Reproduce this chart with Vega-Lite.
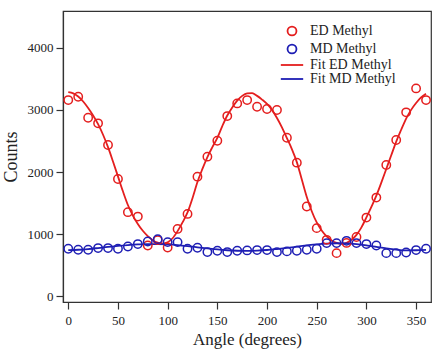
{
  "$schema": "https://vega.github.io/schema/vega-lite/v6.json",
  "width": 368,
  "height": 291,
  "autosize": {"type": "none"},
  "padding": {"left": 63, "top": 11, "right": 1, "bottom": 51},
  "background": "white",
  "config": {
    "font": "Times New Roman, Liberation Serif, serif",
    "view": {"stroke": "#333333", "strokeWidth": 1.2},
    "axis": {
      "grid": false,
      "domainColor": "#333333",
      "domainWidth": 1.2,
      "tickColor": "#333333",
      "tickWidth": 1.2,
      "tickSize": 7,
      "labelFont": "Times New Roman, Liberation Serif, serif",
      "labelColor": "#222222",
      "titleFont": "Times New Roman, Liberation Serif, serif",
      "titleFontWeight": "normal",
      "titleColor": "#222222"
    },
    "legend": {
      "labelFont": "Times New Roman, Liberation Serif, serif",
      "labelColor": "#222222"
    }
  },
  "datasets": {
    "pts": [
      {"angle": 0, "counts": 3157, "series": "ED Methyl"},
      {"angle": 10, "counts": 3210, "series": "ED Methyl"},
      {"angle": 20, "counts": 2873, "series": "ED Methyl"},
      {"angle": 30, "counts": 2783, "series": "ED Methyl"},
      {"angle": 40, "counts": 2435, "series": "ED Methyl"},
      {"angle": 50, "counts": 1889, "series": "ED Methyl"},
      {"angle": 60, "counts": 1355, "series": "ED Methyl"},
      {"angle": 70, "counts": 1284, "series": "ED Methyl"},
      {"angle": 80, "counts": 819, "series": "ED Methyl"},
      {"angle": 90, "counts": 905, "series": "ED Methyl"},
      {"angle": 100, "counts": 787, "series": "ED Methyl"},
      {"angle": 110, "counts": 1085, "series": "ED Methyl"},
      {"angle": 120, "counts": 1327, "series": "ED Methyl"},
      {"angle": 130, "counts": 1926, "series": "ED Methyl"},
      {"angle": 140, "counts": 2247, "series": "ED Methyl"},
      {"angle": 150, "counts": 2504, "series": "ED Methyl"},
      {"angle": 160, "counts": 2900, "series": "ED Methyl"},
      {"angle": 170, "counts": 3104, "series": "ED Methyl"},
      {"angle": 180, "counts": 3157, "series": "ED Methyl"},
      {"angle": 190, "counts": 3050, "series": "ED Methyl"},
      {"angle": 200, "counts": 3013, "series": "ED Methyl"},
      {"angle": 210, "counts": 2997, "series": "ED Methyl"},
      {"angle": 220, "counts": 2552, "series": "ED Methyl"},
      {"angle": 230, "counts": 2151, "series": "ED Methyl"},
      {"angle": 240, "counts": 1445, "series": "ED Methyl"},
      {"angle": 250, "counts": 1098, "series": "ED Methyl"},
      {"angle": 260, "counts": 910, "series": "ED Methyl"},
      {"angle": 270, "counts": 696, "series": "ED Methyl"},
      {"angle": 280, "counts": 860, "series": "ED Methyl"},
      {"angle": 290, "counts": 955, "series": "ED Methyl"},
      {"angle": 300, "counts": 1268, "series": "ED Methyl"},
      {"angle": 310, "counts": 1589, "series": "ED Methyl"},
      {"angle": 320, "counts": 2114, "series": "ED Methyl"},
      {"angle": 330, "counts": 2515, "series": "ED Methyl"},
      {"angle": 340, "counts": 2960, "series": "ED Methyl"},
      {"angle": 350, "counts": 3345, "series": "ED Methyl"},
      {"angle": 360, "counts": 3157, "series": "ED Methyl"},
      {"angle": 0, "counts": 766, "series": "MD Methyl"},
      {"angle": 10, "counts": 750, "series": "MD Methyl"},
      {"angle": 20, "counts": 750, "series": "MD Methyl"},
      {"angle": 30, "counts": 777, "series": "MD Methyl"},
      {"angle": 40, "counts": 777, "series": "MD Methyl"},
      {"angle": 50, "counts": 766, "series": "MD Methyl"},
      {"angle": 60, "counts": 803, "series": "MD Methyl"},
      {"angle": 70, "counts": 841, "series": "MD Methyl"},
      {"angle": 80, "counts": 883, "series": "MD Methyl"},
      {"angle": 90, "counts": 921, "series": "MD Methyl"},
      {"angle": 100, "counts": 873, "series": "MD Methyl"},
      {"angle": 110, "counts": 873, "series": "MD Methyl"},
      {"angle": 120, "counts": 766, "series": "MD Methyl"},
      {"angle": 130, "counts": 782, "series": "MD Methyl"},
      {"angle": 140, "counts": 713, "series": "MD Methyl"},
      {"angle": 150, "counts": 734, "series": "MD Methyl"},
      {"angle": 160, "counts": 713, "series": "MD Methyl"},
      {"angle": 170, "counts": 734, "series": "MD Methyl"},
      {"angle": 180, "counts": 740, "series": "MD Methyl"},
      {"angle": 190, "counts": 745, "series": "MD Methyl"},
      {"angle": 200, "counts": 745, "series": "MD Methyl"},
      {"angle": 210, "counts": 713, "series": "MD Methyl"},
      {"angle": 220, "counts": 724, "series": "MD Methyl"},
      {"angle": 230, "counts": 734, "series": "MD Methyl"},
      {"angle": 240, "counts": 750, "series": "MD Methyl"},
      {"angle": 250, "counts": 766, "series": "MD Methyl"},
      {"angle": 260, "counts": 857, "series": "MD Methyl"},
      {"angle": 270, "counts": 857, "series": "MD Methyl"},
      {"angle": 280, "counts": 894, "series": "MD Methyl"},
      {"angle": 290, "counts": 857, "series": "MD Methyl"},
      {"angle": 300, "counts": 841, "series": "MD Methyl"},
      {"angle": 310, "counts": 819, "series": "MD Methyl"},
      {"angle": 320, "counts": 696, "series": "MD Methyl"},
      {"angle": 330, "counts": 696, "series": "MD Methyl"},
      {"angle": 340, "counts": 707, "series": "MD Methyl"},
      {"angle": 350, "counts": 745, "series": "MD Methyl"},
      {"angle": 360, "counts": 766, "series": "MD Methyl"}
    ],
    "fits": [
      {"angle": 0, "counts": 3285, "series": "Fit ED Methyl"},
      {"angle": 5, "counts": 3265, "series": "Fit ED Methyl"},
      {"angle": 10, "counts": 3215, "series": "Fit ED Methyl"},
      {"angle": 15, "counts": 3135, "series": "Fit ED Methyl"},
      {"angle": 20, "counts": 3030, "series": "Fit ED Methyl"},
      {"angle": 25, "counts": 2910, "series": "Fit ED Methyl"},
      {"angle": 30, "counts": 2770, "series": "Fit ED Methyl"},
      {"angle": 35, "counts": 2600, "series": "Fit ED Methyl"},
      {"angle": 40, "counts": 2400, "series": "Fit ED Methyl"},
      {"angle": 45, "counts": 2170, "series": "Fit ED Methyl"},
      {"angle": 50, "counts": 1930, "series": "Fit ED Methyl"},
      {"angle": 55, "counts": 1690, "series": "Fit ED Methyl"},
      {"angle": 60, "counts": 1470, "series": "Fit ED Methyl"},
      {"angle": 65, "counts": 1300, "series": "Fit ED Methyl"},
      {"angle": 70, "counts": 1165, "series": "Fit ED Methyl"},
      {"angle": 75, "counts": 1055, "series": "Fit ED Methyl"},
      {"angle": 80, "counts": 970, "series": "Fit ED Methyl"},
      {"angle": 85, "counts": 905, "series": "Fit ED Methyl"},
      {"angle": 90, "counts": 865, "series": "Fit ED Methyl"},
      {"angle": 95, "counts": 850, "series": "Fit ED Methyl"},
      {"angle": 100, "counts": 870, "series": "Fit ED Methyl"},
      {"angle": 105, "counts": 935, "series": "Fit ED Methyl"},
      {"angle": 110, "counts": 1050, "series": "Fit ED Methyl"},
      {"angle": 115, "counts": 1190, "series": "Fit ED Methyl"},
      {"angle": 120, "counts": 1350, "series": "Fit ED Methyl"},
      {"angle": 125, "counts": 1580, "series": "Fit ED Methyl"},
      {"angle": 130, "counts": 1840, "series": "Fit ED Methyl"},
      {"angle": 135, "counts": 2050, "series": "Fit ED Methyl"},
      {"angle": 140, "counts": 2240, "series": "Fit ED Methyl"},
      {"angle": 145, "counts": 2400, "series": "Fit ED Methyl"},
      {"angle": 150, "counts": 2550, "series": "Fit ED Methyl"},
      {"angle": 155, "counts": 2740, "series": "Fit ED Methyl"},
      {"angle": 160, "counts": 2910, "series": "Fit ED Methyl"},
      {"angle": 165, "counts": 3040, "series": "Fit ED Methyl"},
      {"angle": 170, "counts": 3150, "series": "Fit ED Methyl"},
      {"angle": 175, "counts": 3225, "series": "Fit ED Methyl"},
      {"angle": 180, "counts": 3265, "series": "Fit ED Methyl"},
      {"angle": 185, "counts": 3270, "series": "Fit ED Methyl"},
      {"angle": 190, "counts": 3225, "series": "Fit ED Methyl"},
      {"angle": 195, "counts": 3165, "series": "Fit ED Methyl"},
      {"angle": 200, "counts": 3095, "series": "Fit ED Methyl"},
      {"angle": 205, "counts": 3000, "series": "Fit ED Methyl"},
      {"angle": 210, "counts": 2870, "series": "Fit ED Methyl"},
      {"angle": 215, "counts": 2720, "series": "Fit ED Methyl"},
      {"angle": 220, "counts": 2545, "series": "Fit ED Methyl"},
      {"angle": 225, "counts": 2370, "series": "Fit ED Methyl"},
      {"angle": 230, "counts": 2160, "series": "Fit ED Methyl"},
      {"angle": 235, "counts": 1880, "series": "Fit ED Methyl"},
      {"angle": 240, "counts": 1600, "series": "Fit ED Methyl"},
      {"angle": 245, "counts": 1370, "series": "Fit ED Methyl"},
      {"angle": 250, "counts": 1190, "series": "Fit ED Methyl"},
      {"angle": 255, "counts": 1060, "series": "Fit ED Methyl"},
      {"angle": 260, "counts": 965, "series": "Fit ED Methyl"},
      {"angle": 265, "counts": 900, "series": "Fit ED Methyl"},
      {"angle": 270, "counts": 860, "series": "Fit ED Methyl"},
      {"angle": 275, "counts": 845, "series": "Fit ED Methyl"},
      {"angle": 280, "counts": 860, "series": "Fit ED Methyl"},
      {"angle": 285, "counts": 910, "series": "Fit ED Methyl"},
      {"angle": 290, "counts": 990, "series": "Fit ED Methyl"},
      {"angle": 295, "counts": 1110, "series": "Fit ED Methyl"},
      {"angle": 300, "counts": 1270, "series": "Fit ED Methyl"},
      {"angle": 305, "counts": 1440, "series": "Fit ED Methyl"},
      {"angle": 310, "counts": 1620, "series": "Fit ED Methyl"},
      {"angle": 315, "counts": 1830, "series": "Fit ED Methyl"},
      {"angle": 320, "counts": 2050, "series": "Fit ED Methyl"},
      {"angle": 325, "counts": 2270, "series": "Fit ED Methyl"},
      {"angle": 330, "counts": 2490, "series": "Fit ED Methyl"},
      {"angle": 335, "counts": 2680, "series": "Fit ED Methyl"},
      {"angle": 340, "counts": 2860, "series": "Fit ED Methyl"},
      {"angle": 345, "counts": 3000, "series": "Fit ED Methyl"},
      {"angle": 350, "counts": 3110, "series": "Fit ED Methyl"},
      {"angle": 355, "counts": 3200, "series": "Fit ED Methyl"},
      {"angle": 360, "counts": 3260, "series": "Fit ED Methyl"},
      {"angle": 0, "counts": 745, "series": "Fit MD Methyl"},
      {"angle": 10, "counts": 750, "series": "Fit MD Methyl"},
      {"angle": 20, "counts": 762, "series": "Fit MD Methyl"},
      {"angle": 30, "counts": 778, "series": "Fit MD Methyl"},
      {"angle": 40, "counts": 795, "series": "Fit MD Methyl"},
      {"angle": 50, "counts": 812, "series": "Fit MD Methyl"},
      {"angle": 60, "counts": 826, "series": "Fit MD Methyl"},
      {"angle": 70, "counts": 836, "series": "Fit MD Methyl"},
      {"angle": 80, "counts": 842, "series": "Fit MD Methyl"},
      {"angle": 90, "counts": 842, "series": "Fit MD Methyl"},
      {"angle": 100, "counts": 836, "series": "Fit MD Methyl"},
      {"angle": 110, "counts": 824, "series": "Fit MD Methyl"},
      {"angle": 120, "counts": 808, "series": "Fit MD Methyl"},
      {"angle": 130, "counts": 790, "series": "Fit MD Methyl"},
      {"angle": 140, "counts": 772, "series": "Fit MD Methyl"},
      {"angle": 150, "counts": 755, "series": "Fit MD Methyl"},
      {"angle": 160, "counts": 742, "series": "Fit MD Methyl"},
      {"angle": 170, "counts": 734, "series": "Fit MD Methyl"},
      {"angle": 180, "counts": 732, "series": "Fit MD Methyl"},
      {"angle": 190, "counts": 736, "series": "Fit MD Methyl"},
      {"angle": 200, "counts": 746, "series": "Fit MD Methyl"},
      {"angle": 210, "counts": 762, "series": "Fit MD Methyl"},
      {"angle": 220, "counts": 780, "series": "Fit MD Methyl"},
      {"angle": 230, "counts": 800, "series": "Fit MD Methyl"},
      {"angle": 240, "counts": 820, "series": "Fit MD Methyl"},
      {"angle": 250, "counts": 838, "series": "Fit MD Methyl"},
      {"angle": 260, "counts": 850, "series": "Fit MD Methyl"},
      {"angle": 270, "counts": 855, "series": "Fit MD Methyl"},
      {"angle": 280, "counts": 852, "series": "Fit MD Methyl"},
      {"angle": 290, "counts": 840, "series": "Fit MD Methyl"},
      {"angle": 300, "counts": 820, "series": "Fit MD Methyl"},
      {"angle": 310, "counts": 796, "series": "Fit MD Methyl"},
      {"angle": 320, "counts": 772, "series": "Fit MD Methyl"},
      {"angle": 330, "counts": 752, "series": "Fit MD Methyl"},
      {"angle": 340, "counts": 740, "series": "Fit MD Methyl"},
      {"angle": 350, "counts": 742, "series": "Fit MD Methyl"},
      {"angle": 360, "counts": 750, "series": "Fit MD Methyl"}
    ]
  },
  "layer": [
    {
      "data": {"name": "fits"},
      "mark": {"type": "line", "strokeWidth": 1.8, "interpolate": "monotone"},
      "encoding": {
        "x": {"field": "angle", "type": "quantitative"},
        "y": {"field": "counts", "type": "quantitative"},
        "detail": {"field": "series"},
        "color": {"field": "series", "type": "nominal"}
      }
    },
    {
      "data": {"name": "pts"},
      "mark": {"type": "point", "filled": false, "strokeWidth": 1.5, "size": 70, "opacity": 1},
      "encoding": {
        "x": {
          "field": "angle", "type": "quantitative",
          "scale": {"domain": [-5.3, 365], "nice": false, "zero": false},
          "axis": {"values": [0, 50, 100, 150, 200, 250, 300, 350], "format": "d", "title": "Angle (degrees)", "titleFontSize": 17, "labelFontSize": 13, "labelPadding": 5, "titlePadding": 4}
        },
        "y": {
          "field": "counts", "type": "quantitative",
          "scale": {"domain": [-90, 4590], "nice": false, "zero": false},
          "axis": {"values": [0, 1000, 2000, 3000, 4000], "format": "d", "title": "Counts", "titleFontSize": 18, "labelFontSize": 13, "labelPadding": 3, "titlePadding": 7}
        },
        "color": {
          "field": "series", "type": "nominal",
          "scale": {
            "domain": ["ED Methyl", "MD Methyl", "Fit ED Methyl", "Fit MD Methyl"],
            "range": ["#e41e1e", "#1e1eb4", "#e41e1e", "#1e1eb4"]
          },
          "legend": {
            "title": null,
            "orient": "none",
            "legendX": 222,
            "legendY": 13,
            "labelFontSize": 14,
            "symbolStrokeWidth": 1.8,
            "symbolSize": 80,
            "rowPadding": 0,
            "labelOffset": 11
          }
        },
        "shape": {
          "field": "series", "type": "nominal",
          "scale": {
            "domain": ["ED Methyl", "MD Methyl", "Fit ED Methyl", "Fit MD Methyl"],
            "range": ["circle", "circle", "M-2.5,0H2.5", "M-2.5,0H2.5"]
          },
          "legend": {
            "title": null,
            "orient": "none",
            "legendX": 222,
            "legendY": 13,
            "labelFontSize": 14,
            "symbolStrokeWidth": 1.8,
            "symbolSize": 80,
            "rowPadding": 0,
            "labelOffset": 11
          }
        }
      }
    }
  ]
}
